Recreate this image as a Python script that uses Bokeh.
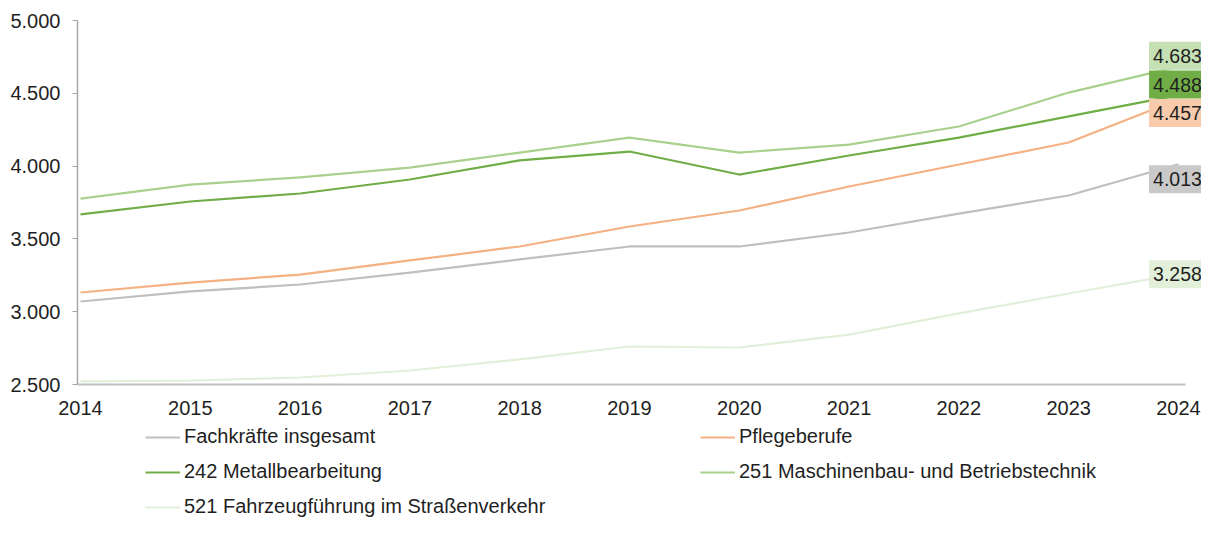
from bokeh.plotting import figure
from bokeh.layouts import column
from bokeh.models import Range1d, Legend, LegendItem, Label, FixedTicker
from bokeh.embed import file_html
from bokeh.resources import INLINE

years = [2014, 2015, 2016, 2017, 2018, 2019, 2020, 2021, 2022, 2023, 2024]
fachkraefte = [3070, 3139, 3187, 3269, 3359, 3448, 3448, 3544, 3674, 3798, 4013]
pflege = [3132, 3200, 3255, 3352, 3448, 3585, 3695, 3860, 4011, 4162, 4457]
metall = [3668, 3757, 3812, 3908, 4039, 4100, 3942, 4073, 4196, 4341, 4488]
maschinenbau = [3777, 3873, 3922, 3990, 4093, 4196, 4093, 4148, 4272, 4505, 4683]
fahrzeug = [2521, 2527, 2548, 2596, 2672, 2761, 2754, 2843, 2988, 3125, 3258]

series_names = ["Fachkräfte insgesamt", "Pflegeberufe", "242 Metallbearbeitung",
                "251 Maschinenbau- und Betriebstechnik",
                "521 Fahrzeugführung im Straßenverkehr"]
end_labels = ["4.013", "4.457", "4.488", "4.683", "3.258"]
y_ticks = [2500, 3000, 3500, 4000, 4500, 5000]
y_tick_labels = ["2.500", "3.000", "3.500", "4.000", "4.500", "5.000"]

line_colors = ["#bfbfbf", "#f4b183", "#70ad47", "#a9d18e", "#e2f0d9"]
box_colors = ["#c9c9c9", "#f8cbad", "#70ad47", "#c5e0b4", "#e2f0d9"]
label_dy = [-15, -13.5, 10.5, 11, 0]

FONT = "Liberation Sans"
TXT = "#1f1f1f"
FS = "20px"

x_start = 2013.9726
x_axis_end = 2024.065
x_frame_end = 2024.21

W = 1201
p = figure(width=W, height=424, output_backend="svg", toolbar_location=None,
           x_range=Range1d(x_start, x_frame_end), y_range=Range1d(2500, 5000),
           frame_width=W - 77, frame_height=364,
           min_border_left=77, min_border_right=0, min_border_top=20, min_border_bottom=40)
p.outline_line_color = None
p.xgrid.grid_line_color = None
p.ygrid.grid_line_color = None
p.background_fill_color = "white"

all_series = [fachkraefte, pflege, metall, maschinenbau, fahrzeug]
draw_order = [4, 0, 1, 3, 2]
for i in draw_order:
    p.line(years, all_series[i], line_color=line_colors[i], line_width=2.2)

# axes
p.xaxis.bounds = (x_start, x_axis_end)
p.xaxis.ticker = FixedTicker(ticks=years)
p.xaxis.major_tick_line_color = None
p.xaxis.minor_tick_line_color = None
p.xaxis.major_tick_in = 0
p.xaxis.major_tick_out = 0
p.xaxis.axis_line_color = "#bfbfbf"
p.xaxis.axis_line_width = 2
p.xaxis.major_label_standoff = 16
p.xaxis.major_label_text_font = FONT
p.xaxis.major_label_text_font_size = FS
p.xaxis.major_label_text_color = TXT

p.yaxis.ticker = FixedTicker(ticks=y_ticks)
p.yaxis.major_label_overrides = {t: l for t, l in zip(y_ticks, y_tick_labels)}
p.yaxis.minor_tick_line_color = None
p.yaxis.major_tick_in = 0
p.yaxis.major_tick_out = 5
p.yaxis.major_tick_line_color = "#a6a6a6"
p.yaxis.axis_line_color = "#a6a6a6"
p.yaxis.axis_line_width = 1.5
p.yaxis.major_label_standoff = 12
p.yaxis.major_label_text_font = FONT
p.yaxis.major_label_text_font_size = FS
p.yaxis.major_label_text_color = TXT

# end labels
for i in range(5):
    lab = Label(x=years[-1], y=all_series[i][-1], text=end_labels[i],
                x_offset=-1, y_offset=label_dy[i],
                text_align="center", text_baseline="middle",
                text_font=FONT, text_font_size="19.5px", text_color=TXT,
                background_fill_color=box_colors[i], background_fill_alpha=1.0,
                padding=dict(left=4, right=4, top=7, bottom=7))
    p.add_layout(lab)

# legend in its own strip below the chart (series drawn outside its view range,
# so only the legend glyphs are visible)
p2 = figure(width=W, height=94, output_backend="svg", toolbar_location=None,
            x_range=Range1d(0, 1), y_range=Range1d(0, 1),
            x_axis_type=None, y_axis_type=None,
            min_border_left=0, min_border_right=0, min_border_top=0, min_border_bottom=0)
p2.outline_line_color = None
p2.xgrid.grid_line_color = None
p2.ygrid.grid_line_color = None

leg_r = {}
for i in range(5):
    leg_r[i] = p2.line(years, all_series[i], line_color=line_colors[i], line_width=2.2)

items = [LegendItem(label=series_names[i], renderers=[leg_r[i]]) for i in range(5)]
lg = Legend(items=items, location=(68, 0), orientation="horizontal", ncols=2,
            glyph_width=35, glyph_height=22, label_height=22, label_width=504,
            label_standoff=4, spacing=12, padding=0, margin=0,
            label_text_font=FONT, label_text_font_size="20px",
            label_text_color=TXT, background_fill_alpha=0,
            border_line_alpha=0)
p2.add_layout(lg, "center")

open("out.html", "w").write(file_html(column(p, p2, spacing=0), INLINE))
